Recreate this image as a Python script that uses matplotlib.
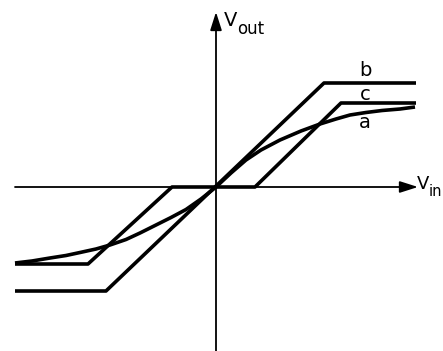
import numpy as np
import matplotlib
matplotlib.use("Agg")
import matplotlib.pyplot as plt

# curve a: smooth saturating transfer
a_x = [-2.01, -1.84, -1.66, -1.50, -1.36, -1.20, -1.06, -0.90, -0.76, -0.61, -0.45, -0.30, -0.15,
       0.0, 0.15, 0.30, 0.45, 0.64, 0.85, 1.04, 1.20, 1.34, 1.50, 1.66, 1.84, 1.99]
a_y = [-0.76, -0.74, -0.71, -0.685, -0.655, -0.62, -0.58, -0.525, -0.46, -0.385, -0.305, -0.225, -0.12,
       0.0, 0.14, 0.27, 0.37, 0.47, 0.56, 0.63, 0.68, 0.72, 0.745, 0.765, 0.78, 0.80]

# curve b: linear with saturation
b_x = [-2.01, -1.10, 1.08, 2.00]
b_y = [-1.04, -1.04, 1.04, 1.04]

# curve c: dead zone with saturation
c_x = [-2.01, -1.28, -0.44, 0.39, 1.25, 2.00]
c_y = [-0.77, -0.77, 0.0, 0.0, 0.84, 0.84]

labels = ["a", "b", "c"]
label_pos = [(1.49, 0.64), (1.49, 1.17), (1.49, 0.92)]

fig = plt.figure(figsize=(4.43, 3.51), dpi=100)
ax = fig.add_axes([0, 0, 1, 1])
ax.set_xlim(-2.16, 2.27)
ax.set_ylim(-1.64, 1.87)
ax.axis('off')

lw = 2.6
for xs, ys in [(a_x, a_y), (b_x, b_y), (c_x, c_y)]:
    ax.plot(xs, ys, color='black', lw=lw, solid_capstyle='butt', solid_joinstyle='round')

# axes with arrows
arrow = dict(arrowstyle='-|>,head_length=1.1,head_width=0.35', color='black', lw=1.3,
             shrinkA=0, shrinkB=0)
ax.annotate('', xy=(2.02, 0), xytext=(-2.01, 0), arrowprops=arrow)
ax.annotate('', xy=(0, 1.75), xytext=(0, -1.66), arrowprops=arrow)

for lab, (x, y) in zip(labels, label_pos):
    ax.text(x, y, lab, fontsize=14, ha='center', va='center')

ax.text(0.08, 1.66, 'V', fontsize=14, ha='left', va='center')
ax.text(0.21, 1.58, 'out', fontsize=12, ha='left', va='center')
ax.text(2.01, 0.03, 'V', fontsize=13, ha='left', va='center')
ax.text(2.13, -0.04, 'in', fontsize=10.5, ha='left', va='center')

fig.savefig('out.png', dpi=100)
